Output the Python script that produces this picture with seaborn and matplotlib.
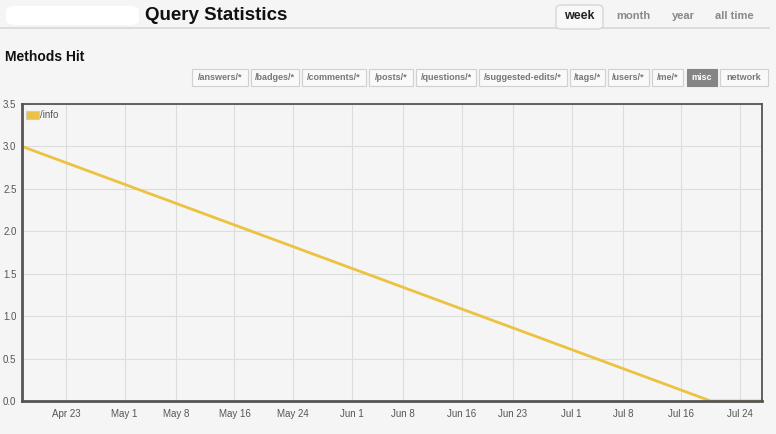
import matplotlib
matplotlib.use("Agg")
import matplotlib.pyplot as plt
from matplotlib.patches import FancyBboxPatch, Rectangle
import seaborn as sns
import pandas as pd

# ---- data ----
dates = ["2012-04-17", "2012-07-20", "2012-07-27"]
hits = [3.0, 0.0, 0.0]
series_name = "/info"
xtick_dates = ["2012-04-23", "2012-05-01", "2012-05-08", "2012-05-16", "2012-05-24",
               "2012-06-01", "2012-06-08", "2012-06-16", "2012-06-23", "2012-07-01",
               "2012-07-08", "2012-07-16", "2012-07-24"]
xtick_labels = ["Apr 23", "May 1", "May 8", "May 16", "May 24", "Jun 1", "Jun 8",
                "Jun 16", "Jun 23", "Jul 1", "Jul 8", "Jul 16", "Jul 24"]
yticks = [0.0, 0.5, 1.0, 1.5, 2.0, 2.5, 3.0, 3.5]
tabs = ["week", "month", "year", "all time"]
buttons = ["/answers/*", "/badges/*", "/comments/*", "/posts/*", "/questions/*",
           "/suggested-edits/*", "/tags/*", "/users/*", "/me/*", "misc", "network"]

df = pd.DataFrame({"date": pd.to_datetime(dates), "hits": hits, "series": series_name})

sns.set_theme(style="white")
plt.rcParams["font.family"] = ["Liberation Sans Narrow", "Liberation Sans", "DejaVu Sans"]

W, H = 776, 434
BG = "#f5f5f5"
fig = plt.figure(figsize=(W / 100, H / 100), dpi=100, facecolor=BG)


def fx(x):
    return x / W


def fy(y):
    return 1 - y / H


# ---- header ----
fig.patches.append(FancyBboxPatch((fx(6), fy(25)), fx(133), 19 / H,
                                  boxstyle="round,pad=0,rounding_size=0.012",
                                  transform=fig.transFigure, facecolor="white",
                                  edgecolor="none"))
fig.text(fx(145), fy(15), "Query Statistics", fontsize=13.5, fontweight="bold",
         color="#111111", va="center", ha="left")
fig.patches.append(Rectangle((fx(0), fy(29)), fx(770), 2 / H, transform=fig.transFigure,
                             facecolor="#dcdcdc", edgecolor="none"))
# week tab
fig.patches.append(FancyBboxPatch((fx(556), fy(29)), fx(47), 24 / H,
                                  boxstyle="round,pad=0,rounding_size=0.008",
                                  transform=fig.transFigure, facecolor="#f8f8f8",
                                  edgecolor="#d6d6d6", linewidth=1))
tab_x = [579, 633, 683, 734]
for t, x in zip(tabs, tab_x):
    first = t == "week"
    fig.text(fx(x), fy(16), t, fontsize=9 if first else 8,
             fontweight="bold", color="#222222" if first else "#888888",
             ha="center", va="center")

fig.text(fx(5), fy(57), "Methods Hit", fontsize=10, fontweight="bold",
         color="#111111", ha="left", va="center")

btn_l = [192, 251, 302, 369, 416, 479, 570, 608, 652, 687, 720]
btn_r = [248, 299, 366, 413, 476, 567, 605, 649, 683, 717, 768]
for b, l, r in zip(buttons, btn_l, btn_r):
    sel = b == "misc"
    fig.patches.append(Rectangle((fx(l), fy(86)), fx(r - l), 17 / H,
                                 transform=fig.transFigure,
                                 facecolor="#858585" if sel else "#f9f9f9",
                                 edgecolor="#858585" if sel else "#d0d0d0",
                                 linewidth=0.8))
    fig.text(fx((l + r) / 2), fy(77.5), b, fontsize=6.5, fontweight="bold",
             color="white" if sel else "#777777", ha="center", va="center")

# ---- chart ----
ax = fig.add_axes([fx(22), fy(401), fx(740), (401 - 104) / H])
ax.set_facecolor(BG)
sns.lineplot(data=df, x="date", y="hits", hue="series", palette=["#edc240"],
             linewidth=2.0, ax=ax, legend=False)
ax.set_xlim(pd.Timestamp("2012-04-17"), pd.Timestamp("2012-07-27"))
ax.set_ylim(0, 3.5)
ax.set_xticks(pd.to_datetime(xtick_dates))
ax.set_xticklabels(xtick_labels)
ax.set_yticks(yticks)
ax.set_yticklabels([f"{v:.1f}" for v in yticks])
ax.grid(True, color="#dddddd", linewidth=0.8)
ax.tick_params(axis="both", length=0, labelsize=7, labelcolor="#555555", pad=4)
ax.tick_params(axis="x", pad=6)
ax.set_xlabel("")
ax.set_ylabel("")
for s in ax.spines.values():
    s.set_visible(True)
    s.set_color("#555555")
    s.set_linewidth(1.3)
ax.spines["left"].set_linewidth(2)
ax.spines["bottom"].set_linewidth(2)

# legend (flot style)
ax.add_patch(Rectangle((0.006, 0.948), 0.017, 0.03, transform=ax.transAxes,
                       facecolor="#edc240", edgecolor="#cccccc", linewidth=0.8))
ax.text(0.024, 0.962, series_name, transform=ax.transAxes, fontsize=7,
        color="#555555", ha="left", va="center")

fig.savefig("out.png", dpi=100, facecolor=BG)
